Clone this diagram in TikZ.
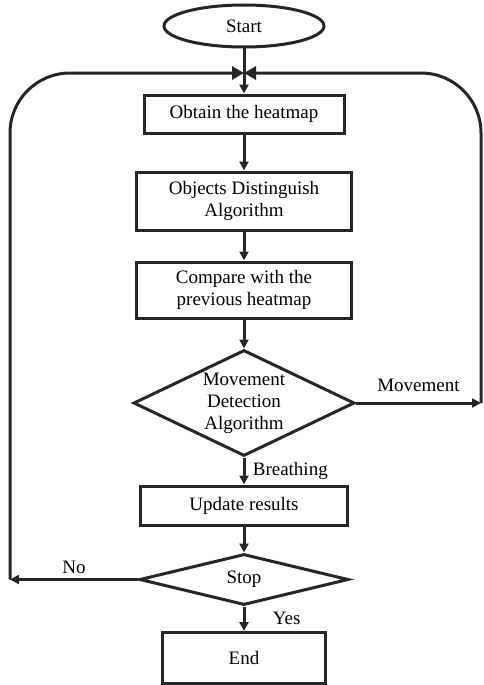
\documentclass[tikz,border=0pt]{standalone}
\usepackage{fontspec}
\setmainfont{Liberation Serif}
\usetikzlibrary{shapes.geometric}
\usetikzlibrary{arrows.meta}

\begin{document}
\begin{tikzpicture}
	[x=1pt, y=1pt, line width=3pt, draw=black!85,
	 >={Triangle[length=9pt, width=9pt]},
	 font=\fontsize{19}{22}\selectfont,
	 proc/.style = {draw, rectangle, align=center, inner sep=0pt},
	 decide/.style = {draw, diamond, align=center, inner sep=0pt, aspect=2},
	 term/.style = {draw, ellipse, inner sep=0pt},
	 bigtip/.style = {-{Triangle[length=12pt, width=13pt]}}]
	\useasboundingbox (0,0) rectangle (484,-685);
	\node[term, minimum width=160pt, minimum height=42pt] (start) at (244,-26) {Start};
	\node[proc, minimum width=200pt, minimum height=38pt] (obtain) at (244,-114) {Obtain the heatmap};
	\node[proc, minimum width=215pt, minimum height=58pt] (objects) at (244,-201) {Objects Distinguish\\Algorithm};
	\node[proc, minimum width=215pt, minimum height=56pt] (compare) at (244,-290) {Compare with the\\previous heatmap};
	\node[decide, minimum width=221pt, minimum height=106pt] (move) at (244,-403) {Movement\\Detection\\Algorithm};
	\node[proc, minimum width=207pt, minimum height=39pt] (update) at (244,-505.5) {Update results};
	\node[decide, minimum width=209pt, minimum height=51pt] (stop) at (244,-579.5) {Stop};
	\node[proc, minimum width=163pt, minimum height=51pt] (end) at (244,-658) {End};
	\coordinate (join) at (244,-73);
	\coordinate (nocorner) at (10,0 |- stop.west);
	\coordinate (mvcorner) at (481,0 |- move.east);
	% main chain
	\draw[->] (start) -- (obtain);
	\draw[->] (obtain) -- (objects);
	\draw[->] (objects) -- (compare);
	\draw[->] (compare) -- (move);
	\draw[->] (move) -- node[right = 4pt] {Breathing} (update);
	\draw[->] (update) -- (stop);
	\draw[->] (stop) -- node[right = 24pt] {Yes} (end);
	% loops back to the top
	\draw[->] (stop.west) -- node[above = 1pt] {No} (nocorner);
	\draw[bigtip, rounded corners=60pt] (nocorner) -- (10,-73) -- (join);
	\draw[->] (move.east) -- node[above = 6pt] {Movement} (mvcorner);
	\draw[bigtip, rounded corners=60pt] (mvcorner) -- (481,-73) -- (join);
\end{tikzpicture}
\end{document}
